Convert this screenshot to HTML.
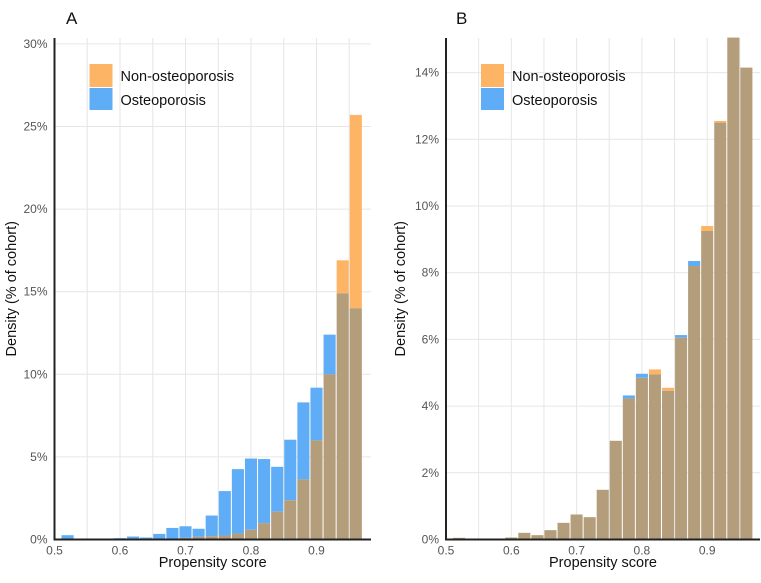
<!DOCTYPE html>
<html><head><meta charset="utf-8"><style>
body{margin:0;background:#fff;}
svg text{font-family:"Liberation Sans",Arial,sans-serif;}
</style></head><body>
<svg id="chart" width="761" height="578" xmlns="http://www.w3.org/2000/svg"></svg>
<script>
const binStarts = [0.51,0.53,0.55,0.57,0.59,0.61,0.63,0.65,0.67,0.69,0.71,0.73,0.75,0.77,0.79,0.81,0.83,0.85,0.87,0.89,0.91,0.93,0.95];
const aNonOsteo = [0,0,0,0,0,0,0,0,0.06,0.1,0.16,0.2,0.24,0.36,0.59,0.99,1.68,2.38,3.64,6.0,10.0,16.9,25.7];
const aOsteo = [0.26,0.05,0,0,0.08,0.18,0.12,0.34,0.7,0.8,0.65,1.45,2.93,4.26,4.9,4.87,4.4,6.04,8.3,9.19,12.4,14.9,14.0];
const bNonOsteo = [0.05,0,0,0,0.06,0.2,0.13,0.28,0.5,0.75,0.67,1.49,2.96,4.23,4.85,5.1,4.55,6.05,8.2,9.4,12.55,15.3,14.15];
const bOsteo = [0.05,0,0,0,0.06,0.2,0.13,0.28,0.5,0.75,0.67,1.49,2.96,4.32,4.97,4.95,4.46,6.13,8.35,9.25,12.5,15.3,14.15];
const xTicks = [0.5,0.6,0.7,0.8,0.9];
const aYTicks = [0,5,10,15,20,25,30];
const bYTicks = [0,2,4,6,8,10,12,14];
const binWidth = 0.02;

const svg = document.getElementById('chart');
const NS = 'http://www.w3.org/2000/svg';
function mk(tag, attrs, parent){const e=document.createElementNS(NS,tag);for(const k in attrs)e.setAttribute(k,attrs[k]);(parent||svg).appendChild(e);return e;}
const ORANGE='#FDB565', BLUE='#5EADF6', BROWN='#B49D7A';

function panel(p){
  const g = mk('g',{});
  
  
  const x = v => p.x0 + (v-0.5)*p.xs;
  const y = v => p.y0 - v*p.ys;
  const top = 38, right = p.right;
  for(let v=0.5; v<=0.98; v+=0.05){
    const l = mk('line',{x1:x(v),x2:x(v),y1:top,y2:p.y0,stroke:'#e6e6e6','stroke-width':1},g);
    
    
  }
  p.yTicks.forEach(t=>{
    const l = mk('line',{x1:p.x0,x2:right,y1:y(t),y2:y(t),stroke:'#e6e6e6','stroke-width':1},g);
    
    
    const tx = mk('text',{x:p.x0-7,y:y(t)+4,'text-anchor':'end','font-size':12,fill:'#555'},g);
    tx.textContent = t+'%';
    
    
  });
  binStarts.forEach((b,i)=>{
    const n = Math.min(p.non[i], p.maxY), o = Math.min(p.ost[i], p.maxY);
    const lo = Math.min(n,o), hi = Math.max(n,o);
    const bx = x(b)+0.5, bw = binWidth*p.xs-1;
    if(hi>lo){
      const r = mk('rect',{x:bx,y:y(hi),width:bw,height:y(lo)-y(hi),fill:n>o?ORANGE:BLUE},g);
      
      
    }
    if(lo>0){
      const r = mk('rect',{x:bx,y:y(lo),width:bw,height:y(0)-y(lo),fill:BROWN},g);
      
      
    }
  });
  const ya = mk('line',{x1:p.x0,x2:p.x0,y1:top,y2:p.y0+1,stroke:'#222','stroke-width':2},g);
   
  const xa = mk('line',{x1:p.x0-1,x2:right,y1:p.y0,y2:p.y0,stroke:'#222','stroke-width':2},g);
   
  xTicks.forEach(t=>{
    const tx = mk('text',{x:x(t),y:p.y0+15,'text-anchor':'middle','font-size':12,fill:'#555'},g);
    tx.textContent = t.toFixed(1);
    
    
  });
  const xt = mk('text',{x:(p.x0+right)/2,y:567,'text-anchor':'middle','font-size':14.5,fill:'#111'},g);
  xt.textContent='Propensity score';
   
  const yt = mk('text',{x:0,y:0,'text-anchor':'middle','font-size':14.5,fill:'#111',transform:`translate(${p.ylx},${(top+p.y0)/2}) rotate(-90)`},g);
  yt.textContent='Density (% of cohort)';
   
  const pt = mk('text',{x:p.tx,y:24,'font-size':17,fill:'#111'},g);
  pt.textContent=p.title;
   
  const lx = p.x0+35;
  const r1 = mk('rect',{x:lx,y:64,width:23,height:23,fill:ORANGE},g);
   
  const r2 = mk('rect',{x:lx,y:88,width:23,height:22,fill:BLUE},g);
   
  const t1 = mk('text',{x:lx+31,y:81,'font-size':14.5,fill:'#111'},g);
  t1.textContent='Non-osteoporosis';
   
  const t2 = mk('text',{x:lx+31,y:105,'font-size':14.5,fill:'#111'},g);
  t2.textContent='Osteoporosis';
   
}
panel({name:'panel-a',title:'A',tx:66,x0:54.5,xs:655,y0:539.5,ys:16.52,right:371,maxY:30.4,yTicks:aYTicks,non:aNonOsteo,ost:aOsteo,ylx:16});
panel({name:'panel-b',title:'B',tx:456,x0:446,xs:653,y0:539.5,ys:33.35,right:760,maxY:15.05,yTicks:bYTicks,non:bNonOsteo,ost:bOsteo,ylx:405});
</script>
</body></html>
